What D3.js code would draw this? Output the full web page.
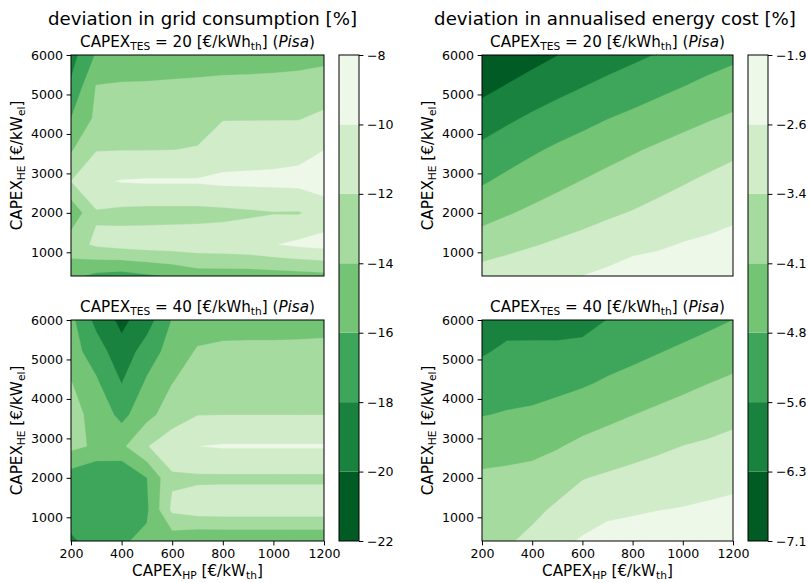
<!DOCTYPE html>
<html><head><meta charset="utf-8">
<script src="https://cdn.jsdelivr.net/npm/d3@7"></script>
<style>body{margin:0;background:#fff} svg{display:block} text{font-family:"DejaVu Sans",sans-serif;fill:#000}</style>
</head><body>
<svg id="chart" width="809" height="583"></svg>
<script>
// ---------------- data ----------------
const xValues = [200,300,400,500,600,700,800,900,1000,1100,1200];
const yValues = [400,1200,2000,2800,3600,4400,5200,6000];
const xTicks = [200,400,600,800,1000,1200];
const yTicks = [1000,2000,3000,4000,5000,6000];
const gridLevels = [-22,-20,-18,-16,-14,-12,-10,-8];
const costLevels = [-7.07,-6.327,-5.584,-4.841,-4.099,-3.356,-2.613,-1.87];

// rows listed from y = 6000 (top) down to y = 400 (bottom), columns x = 200..1200
const gridTES20 = [
  [-18.8,-15.8,-15.2,-15.0,-15.0,-15.0,-14.9,-14.8,-14.8,-14.7,-14.5],
  [-17.7,-13.9,-13.8,-13.8,-13.7,-13.6,-13.5,-13.5,-13.4,-13.3,-13.1],
  [-16.0,-13.6,-13.4,-13.3,-13.2,-12.7,-12.1,-12.1,-12.1,-12.1,-11.6],
  [-14.2,-12.1,-12.05,-12.05,-12.02,-11.9,-11.0,-10.9,-10.8,-10.6,-10.02],
  [-11.98,-10.3,-9.9,-9.8,-9.8,-9.8,-9.6,-9.55,-9.5,-9.4,-9.0],
  [-15.5,-12.2,-12.5,-12.6,-12.6,-12.6,-12.5,-12.3,-12.1,-12.15,-11.1],
  [-12.8,-11.7,-11.3,-11.1,-11.0,-10.9,-10.8,-10.6,-10.1,-9.6,-9.3],
  [-15.5,-16.5,-16.8,-16.3,-15.8,-15.0,-15.0,-15.0,-14.9,-14.8,-14.6]
];
const gridTES40 = [
  [-15.5,-18.6,-20.5,-18.9,-15.9,-15.0,-15.0,-14.9,-14.9,-14.8,-14.8],
  [-15.2,-17.0,-19.3,-17.0,-15.2,-13.8,-13.5,-13.5,-13.5,-13.5,-13.4],
  [-13.9,-15.7,-18.02,-15.7,-14.02,-13.3,-13.2,-13.1,-13.1,-13.1,-13.0],
  [-13.4,-14.6,-16.6,-14.6,-13.0,-12.05,-12.02,-12.02,-12.02,-12.02,-12.02],
  [-13.5,-14.3,-14.4,-12.1,-10.8,-10.02,-9.85,-9.85,-9.85,-9.85,-9.85],
  [-17.0,-17.95,-17.9,-16.02,-12.3,-12.3,-12.3,-12.3,-12.3,-12.3,-12.3],
  [-17.0,-16.8,-16.5,-16.3,-11.6,-11.0,-10.9,-10.9,-10.9,-10.9,-10.9],
  [-18.3,-17.2,-16.2,-15.6,-15.2,-15.8,-15.8,-15.8,-15.8,-15.8,-15.8]
];
const costTES20 = [
  [-7.05,-6.83,-6.58,-6.34,-6.13,-5.92,-5.74,-5.55,-5.36,-5.17,-5.0],
  [-6.54,-6.28,-6.03,-5.81,-5.60,-5.40,-5.21,-5.03,-4.85,-4.66,-4.5],
  [-5.96,-5.71,-5.47,-5.25,-5.06,-4.86,-4.69,-4.51,-4.33,-4.16,-4.0],
  [-5.42,-5.17,-4.94,-4.73,-4.54,-4.35,-4.17,-4.0,-3.83,-3.65,-3.5],
  [-4.92,-4.68,-4.47,-4.27,-4.08,-3.90,-3.74,-3.57,-3.41,-3.25,-3.1],
  [-4.37,-4.16,-3.97,-3.79,-3.63,-3.46,-3.32,-3.17,-3.03,-2.90,-2.75],
  [-3.74,-3.57,-3.41,-3.26,-3.12,-2.99,-2.82,-2.72,-2.58,-2.49,-2.4],
  [-3.05,-2.93,-2.82,-2.72,-2.61,-2.46,-2.27,-2.20,-2.12,-2.04,-1.95]
];
const costTES40 = [
  [-6.04,-5.80,-5.81,-5.85,-5.83,-5.57,-5.49,-5.34,-5.17,-5.01,-4.84],
  [-5.65,-5.47,-5.46,-5.44,-5.38,-5.17,-5.04,-4.88,-4.72,-4.56,-4.40],
  [-5.26,-5.14,-5.11,-5.03,-4.92,-4.75,-4.59,-4.42,-4.27,-4.11,-3.97],
  [-4.87,-4.79,-4.73,-4.60,-4.44,-4.28,-4.11,-3.96,-3.81,-3.67,-3.54],
  [-4.39,-4.32,-4.28,-4.15,-3.94,-3.77,-3.62,-3.48,-3.35,-3.26,-3.15],
  [-3.99,-3.96,-3.89,-3.69,-3.39,-3.26,-3.15,-3.05,-2.97,-2.88,-2.79],
  [-3.70,-3.70,-3.53,-3.24,-2.96,-2.77,-2.70,-2.63,-2.58,-2.51,-2.45],
  [-3.42,-3.44,-3.18,-2.80,-2.54,-2.35,-2.30,-2.25,-2.23,-2.16,-2.12]
];
const columnTitles = ["deviation in grid consumption [%]", "deviation in annualised energy cost [%]"];
const tesValues = [20, 40];
const siteName = "Pisa";

// ---------------- styling / helpers ----------------
const greensStops = ["#f7fcf5","#e5f5e0","#c7e9c0","#a1d99b","#74c476","#41ab5d","#238b45","#006d2c","#00441b"];
function greens(t){ const s=Math.max(0,Math.min(1,t))*8; const i=Math.min(7,Math.floor(s)); return d3.interpolateRgb(greensStops[i],greensStops[i+1])(s-i); }
function bandColors(n){ return d3.range(n).map(k=>greens(1-(k+0.5)/n)); }

const svg = d3.select("#chart");
const TICK = 12.6, LABEL = 15.2, SUB = 15.2, TITLE = 18.2;

function rich(sel, parts, size){
  let down=false;
  parts.forEach(p=>{
    const t=sel.append("tspan").text(p.t);
    if(p.sub){ t.attr("font-size",size*0.7); if(!down){t.attr("dy",size*0.22); down=true;} }
    else { if(down){t.attr("dy",-size*0.22); down=false;} }
    if(p.it) t.attr("font-style","italic");
  });
}

const PW_L=[71,324], PW_R=[482,733], ROW_T=[55,276], ROW_B=[320,541];
let clipId=0;
function panel(xr, yr, grid, levels, showX, tes){
  const x=d3.scaleLinear().domain([200,1200]).range(xr);
  const y=d3.scaleLinear().domain([400,6000]).range([yr[1],yr[0]]);
  const nx=xValues.length, ny=yValues.length;
  const values=[];
  for(let j=0;j<ny;j++){ const row=grid[ny-1-j]; for(let i=0;i<nx;i++) values.push(row[i]); }
  const gx=d3.scaleLinear().domain([0.5,nx-0.5]).range([xValues[0],xValues[nx-1]]);
  const gy=d3.scaleLinear().domain([0.5,ny-0.5]).range([yValues[0],yValues[ny-1]]);
  const proj=d3.geoTransform({point(px,py){ this.stream.point(x(gx(px)), y(gy(py))); }});
  const path=d3.geoPath(proj);
  const cols=bandColors(levels.length-1);
  const contours=d3.contours().size([nx,ny]).thresholds(levels.slice(0,-1))(values);
  const id="clip"+(clipId++);
  svg.append("clipPath").attr("id",id).append("rect")
    .attr("x",xr[0]).attr("y",yr[0]).attr("width",xr[1]-xr[0]).attr("height",yr[1]-yr[0]);
  const g=svg.append("g").attr("clip-path",`url(#${id})`);
  g.selectAll("path").data(contours).join("path")
    .attr("d",path).attr("fill",(d,i)=>cols[i]).attr("stroke",(d,i)=>cols[i]).attr("stroke-width",0.3);
  svg.append("rect").attr("x",xr[0]).attr("y",yr[0]).attr("width",xr[1]-xr[0]).attr("height",yr[1]-yr[0])
    .attr("fill","none").attr("stroke","#000").attr("stroke-width",1);
  const ya=svg.append("g").attr("transform",`translate(${xr[0]},0)`)
    .call(d3.axisLeft(y).tickValues(yTicks).tickSize(4.4).tickPadding(3.5).tickFormat(d3.format("d")));
  ya.select(".domain").remove();
  ya.selectAll("text").attr("font-size",TICK).attr("font-family","DejaVu Sans");
  if(showX){
    const xa=svg.append("g").attr("transform",`translate(0,${yr[1]})`)
      .call(d3.axisBottom(x).tickValues(xTicks).tickSize(4.4).tickPadding(3.5).tickFormat(d3.format("d")));
    xa.select(".domain").remove();
    xa.selectAll("text").attr("font-size",TICK).attr("font-family","DejaVu Sans");
    const xl=svg.append("text").attr("x",(xr[0]+xr[1])/2).attr("y",yr[1]+35).attr("text-anchor","middle").attr("font-size",LABEL);
    rich(xl,[{t:"CAPEX"},{t:"HP",sub:1},{t:" [€/kW"},{t:"th",sub:1},{t:"]"}],LABEL);
  }
  const st=svg.append("text").attr("x",(xr[0]+xr[1])/2).attr("y",yr[0]-8).attr("text-anchor","middle").attr("font-size",SUB);
  rich(st,[{t:"CAPEX"},{t:"TES",sub:1},{t:` = ${tes} [€/kWh`},{t:"th",sub:1},{t:"] ("},{t:siteName,it:1},{t:")"}],SUB);
  const cy=(yr[0]+yr[1])/2, lx=xr[0]-49;
  const yl=svg.append("text").attr("transform",`translate(${lx},${cy}) rotate(-90)`).attr("text-anchor","middle").attr("font-size",LABEL);
  rich(yl,[{t:"CAPEX"},{t:"HE",sub:1},{t:" [€/kW"},{t:"el",sub:1},{t:"]"}],LABEL);
}

function colorbar(x0, levels, fmt){
  const w=20, top=55, bot=541;
  const s=d3.scaleLinear().domain([levels[0],levels[levels.length-1]]).range([bot,top]);
  const cols=bandColors(levels.length-1);
  svg.append("g").selectAll("rect").data(d3.range(levels.length-1)).join("rect")
    .attr("x",x0).attr("width",w).attr("y",i=>s(levels[i+1])).attr("height",i=>s(levels[i])-s(levels[i+1]))
    .attr("fill",i=>cols[i]);
  svg.append("rect").attr("x",x0).attr("y",top).attr("width",w).attr("height",bot-top).attr("fill","none").attr("stroke","#000").attr("stroke-width",1);
  const a=svg.append("g").attr("transform",`translate(${x0+w},0)`)
    .call(d3.axisRight(s).tickValues(levels).tickSize(4.4).tickPadding(3.5).tickFormat(fmt));
  a.select(".domain").remove();
  a.selectAll("text").attr("font-size",TICK).attr("font-family","DejaVu Sans");
}

panel(PW_L,ROW_T,gridTES20,gridLevels,false,tesValues[0]);
panel(PW_L,ROW_B,gridTES40,gridLevels,true,tesValues[1]);
panel(PW_R,ROW_T,costTES20,costLevels,false,tesValues[0]);
panel(PW_R,ROW_B,costTES40,costLevels,true,tesValues[1]);
colorbar(339,gridLevels,d3.format("d"));
colorbar(748,costLevels,d3.format(".1f"));

svg.append("text").attr("x",202.5).attr("y",25).attr("text-anchor","middle").attr("font-size",TITLE).text(columnTitles[0]);
svg.append("text").attr("x",615).attr("y",25).attr("text-anchor","middle").attr("font-size",TITLE).text(columnTitles[1]);
</script>
</body></html>
